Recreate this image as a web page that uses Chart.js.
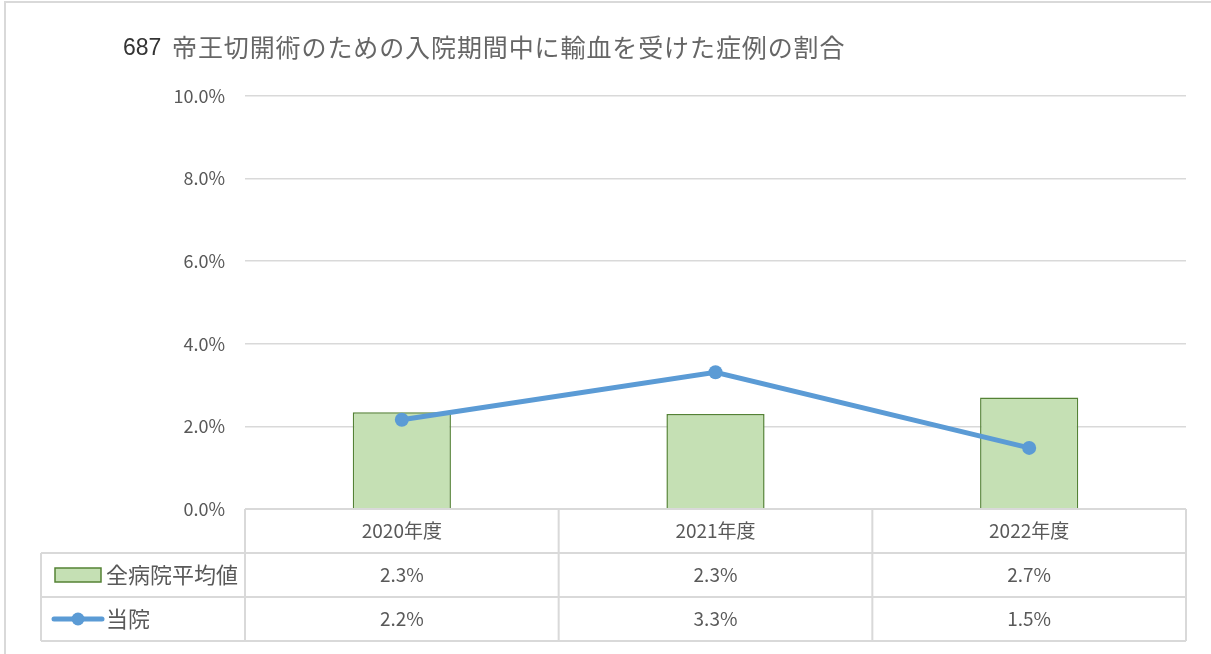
<!DOCTYPE html>
<html>
<head>
<meta charset="utf-8">
<script src="https://cdn.jsdelivr.net/npm/chart.js@4"></script>
<style>
html,body{margin:0;padding:0;background:#fff;}
canvas{display:block;}
</style>
</head>
<body>
<canvas id="c" width="1211" height="654"></canvas>
<script>
const titleNumber = '687';
const titleText = '帝王切開術のための入院期間中に輸血を受けた症例の割合';
const categories = ['2020年度', '2021年度', '2022年度'];
const seriesNames = ['全病院平均値', '当院'];
const allHospitalAvg = [2.34, 2.30, 2.70];
const ownHospital = [2.16, 3.31, 1.48];
const yTicks = [0, 2, 4, 6, 8, 10];

const FONT = "'Noto Sans CJK JP', 'Noto Sans', sans-serif";
const GRID = '#d9d9d9';
const TXT = '#595959';
const BAR_FILL = '#c5e0b4';
const BAR_BORDER = '#548235';
const LINE_C = '#5b9bd5';
const fmt = v => v.toFixed(1) + '%';

const frame = {
  id: 'frame',
  beforeDraw(chart) {
    const ctx = chart.ctx;
    ctx.save();
    ctx.fillStyle = '#fff';
    ctx.fillRect(0, 0, chart.width, chart.height);
    ctx.strokeStyle = GRID;
    ctx.lineWidth = 2;
    ctx.beginPath();
    ctx.moveTo(5, chart.height);
    ctx.lineTo(5, 2);
    ctx.lineTo(chart.width, 2);
    ctx.stroke();
    ctx.restore();
  },
  afterDraw(chart) {
    const ctx = chart.ctx;
    const ca = chart.chartArea;
    const xs = chart.scales.x;
    ctx.save();
    // title
    ctx.textBaseline = 'middle';
    ctx.textAlign = 'left';
    ctx.fillStyle = '#333';
    ctx.font = "23px 'Liberation Sans', Arial, sans-serif";
    ctx.fillText(titleNumber, 123, 49);
    ctx.fillStyle = '#666';
    ctx.font = "25px " + FONT;
    if ('letterSpacing' in ctx) ctx.letterSpacing = '0.9px';
    ctx.fillText(titleText, 172, 47);
    if ('letterSpacing' in ctx) ctx.letterSpacing = '0px';

    // data table
    const n = categories.length;
    const w = (ca.right - ca.left) / n;
    const rowH = 44;
    const top = ca.bottom;
    const legLeft = 41;
    ctx.strokeStyle = GRID;
    ctx.lineWidth = 2;
    ctx.beginPath();
    ctx.moveTo(ca.left, top); ctx.lineTo(ca.right, top);
    for (let r = 1; r <= 3; r++) {
      ctx.moveTo(legLeft, top + r * rowH); ctx.lineTo(ca.right, top + r * rowH);
    }
    for (let i = 0; i <= n; i++) {
      const x = ca.left + i * w;
      ctx.moveTo(x, top); ctx.lineTo(x, top + 3 * rowH);
    }
    ctx.moveTo(legLeft, top + rowH); ctx.lineTo(legLeft, top + 3 * rowH);
    ctx.stroke();

    ctx.fillStyle = TXT;
    ctx.font = "19px " + FONT;
    ctx.textAlign = 'center';
    categories.forEach((c, i) => {
      const x = xs.getPixelForValue(i);
      ctx.fillText(c, x, top + rowH / 2);
      ctx.fillText(fmt(allHospitalAvg[i]), x, top + rowH * 1.5);
      ctx.fillText(fmt(ownHospital[i]), x, top + rowH * 2.5);
    });

    // legend keys
    const y1 = top + rowH * 1.5, y2 = top + rowH * 2.5;
    ctx.fillStyle = BAR_FILL;
    ctx.strokeStyle = BAR_BORDER;
    ctx.lineWidth = 1.5;
    ctx.fillRect(55, y1 - 7, 46, 14);
    ctx.strokeRect(55, y1 - 7, 46, 14);
    ctx.strokeStyle = LINE_C;
    ctx.lineWidth = 5;
    ctx.lineCap = 'round';
    ctx.beginPath(); ctx.moveTo(54, y2); ctx.lineTo(102, y2); ctx.stroke();
    ctx.fillStyle = LINE_C;
    ctx.beginPath(); ctx.arc(78, y2, 6.5, 0, Math.PI * 2); ctx.fill();

    ctx.fillStyle = TXT;
    ctx.textAlign = 'left';
    ctx.font = "22px " + FONT;
    ctx.fillText(seriesNames[0], 106, y1);
    ctx.fillText(seriesNames[1], 106, y2);
    ctx.restore();
  }
};

new Chart(document.getElementById('c'), {
  type: 'bar',
  data: {
    labels: categories,
    datasets: [
      {
        type: 'line',
        label: seriesNames[1],
        data: ownHospital,
        borderColor: LINE_C,
        backgroundColor: LINE_C,
        borderWidth: 5,
        pointRadius: 7,
        pointBorderWidth: 0,
        pointBackgroundColor: LINE_C,
        tension: 0,
        order: 0
      },
      {
        type: 'bar',
        label: seriesNames[0],
        data: allHospitalAvg,
        backgroundColor: BAR_FILL,
        borderColor: BAR_BORDER,
        borderWidth: 1.5,
        categoryPercentage: 1,
        barPercentage: 0.313,
        order: 1
      }
    ]
  },
  options: {
    responsive: false,
    devicePixelRatio: 1,
    animation: false,
    layout: { padding: { top: 96, left: 0, right: 25, bottom: 145 } },
    plugins: { legend: { display: false }, title: { display: false }, tooltip: { enabled: false } },
    scales: {
      x: { display: false, offset: true },
      y: {
        min: 0, max: 10,
        afterBuildTicks(scale) { scale.ticks = yTicks.map(v => ({ value: v })); },
        afterFit(scale) { scale.width = 245; },
        border: { display: false },
        grid: { color: GRID, lineWidth: 1.5, drawTicks: false },
        ticks: {
          padding: 20,
          color: TXT,
          font: { family: FONT, size: 18 },
          callback: v => fmt(v)
        }
      }
    }
  },
  plugins: [frame]
});
</script>
</body>
</html>
